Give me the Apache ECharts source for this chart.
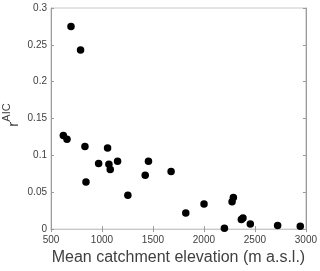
<!DOCTYPE html>
<html>
<head>
<meta charset="utf-8">
<script src="https://cdn.jsdelivr.net/npm/echarts@6/dist/echarts.min.js"></script>
<style>html,body{margin:0;padding:0;background:#fff;}#c{width:320px;height:271px;}</style>
</head>
<body>
<div id="c"></div>
<script>
var elevation = [696, 790, 621, 657, 833, 843, 967, 1055, 1068, 1081, 1153, 1254, 1424, 1456, 1678, 1822, 2001, 2201, 2276, 2289, 2367, 2383, 2455, 2723, 2945];
var rAIC = [0.275, 0.243, 0.127, 0.122, 0.112, 0.064, 0.089, 0.110, 0.088, 0.081, 0.092, 0.046, 0.073, 0.092, 0.078, 0.022, 0.034, 0.001, 0.037, 0.043, 0.013, 0.015, 0.007, 0.005, 0.004];
var xTicks = [500, 1000, 1500, 2000, 2500, 3000];
var yTicks = [0, 0.05, 0.1, 0.15, 0.2, 0.25, 0.3];
var xTitle = 'Mean catchment elevation (m a.s.l.)';

var pts = elevation.map(function (x, i) { return [x, rAIC[i]]; });
var chart = echarts.init(document.getElementById('c'), null, {renderer: 'canvas'});
var txt = '#404040', axc = '#9a9a9a';
var fmtY = function (v) { return String(+v.toFixed(2)); };
var fmtX = function (v) { return String(v); };
chart.setOption({
  animation: false,
  grid: {left: 51, right: 14, top: 8, bottom: 39, show: true, borderColor: '#c8c8c8', borderWidth: 1},
  xAxis: [{
    type: 'value', min: xTicks[0], max: xTicks[xTicks.length - 1], interval: 500,
    name: xTitle, nameLocation: 'middle', nameGap: 19,
    nameTextStyle: {fontFamily: 'Liberation Sans, Arial', fontSize: 16, color: txt},
    axisLine: {show: true, lineStyle: {color: axc}},
    axisTick: {show: true, inside: true, length: 3, lineStyle: {color: axc}},
    axisLabel: {color: txt, fontFamily: 'Liberation Sans, Arial', fontSize: 10, margin: 6, formatter: fmtX},
    splitLine: {show: false}
  }, {
    type: 'value', position: 'top', min: xTicks[0], max: xTicks[xTicks.length - 1], interval: 500,
    axisLine: {show: true, lineStyle: {color: '#c8c8c8'}},
    axisTick: {show: true, inside: true, length: 3, lineStyle: {color: axc}},
    axisLabel: {show: false}, splitLine: {show: false}
  }],
  yAxis: [{
    type: 'value', min: yTicks[0], max: yTicks[yTicks.length - 1], interval: 0.05,
    axisLine: {show: true, lineStyle: {color: axc}},
    axisTick: {show: true, inside: true, length: 3, lineStyle: {color: axc}},
    axisLabel: {color: txt, fontFamily: 'Liberation Sans, Arial', fontSize: 10, margin: 4, formatter: fmtY},
    splitLine: {show: false}
  }, {
    type: 'value', position: 'right', min: yTicks[0], max: yTicks[yTicks.length - 1], interval: 0.05,
    axisLine: {show: true, lineStyle: {color: axc}},
    axisTick: {show: true, inside: true, length: 3, lineStyle: {color: axc}},
    axisLabel: {show: false}, splitLine: {show: false}
  }],
  graphic: [{
    type: 'text', x: 11, y: 115, rotation: Math.PI / 2,
    style: {
      text: '{r|r}{s|AIC}', align: 'center', verticalAlign: 'middle',
      rich: {
        r: {fontFamily: 'Liberation Sans, Arial', fontSize: 15, fill: txt, color: txt, verticalAlign: 'bottom', lineHeight: 20},
        s: {fontFamily: 'Liberation Sans, Arial', fontSize: 11, fill: txt, color: txt, verticalAlign: 'top', lineHeight: 20}
      }
    }
  }],
  series: [{
    type: 'scatter', xAxisIndex: 0, yAxisIndex: 0, data: pts,
    symbol: 'circle', symbolSize: 7.5,
    itemStyle: {color: '#000', opacity: 1}
  }]
});
</script>
</body>
</html>
